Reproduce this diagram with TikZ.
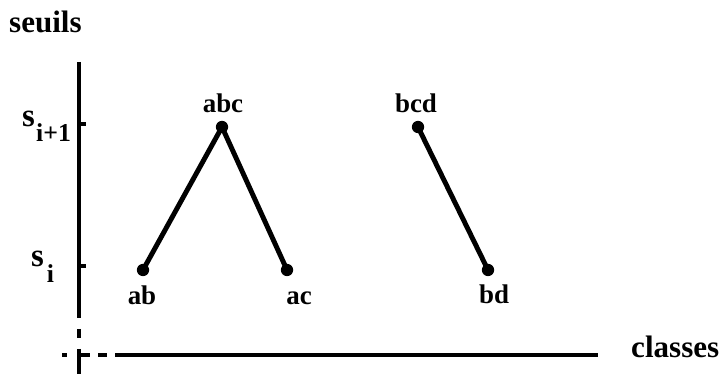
\documentclass[tikz,border=0pt]{standalone}
\usepackage{fontspec}
\setmainfont{Liberation Serif}
\begin{document}
\begin{tikzpicture}[x=0.03cm,y=-0.03cm,
  title/.style={font=\fontsize{26.5}{30}\selectfont\bfseries, inner sep=0pt, anchor=base west},
  lbl/.style={font=\fontsize{23}{26}\selectfont\bfseries, inner sep=0pt, anchor=base},
  slbl/.style={font=\fontsize{22}{25}\selectfont\bfseries, inner sep=0pt, anchor=base west},
  edge/.style={line width=4.2pt, line cap=round},
  axis/.style={line width=2.6pt},
  dotmark/.style={circle, fill=black, minimum size=10.5pt, inner sep=0pt}]
\useasboundingbox (0,0) rectangle (721,374);
% axes
\draw[axis] (79,62) -- (79,318);
\draw[axis] (79,124) -- (86,124);
\draw[axis] (79,266) -- (86,266);
\draw[axis] (79,329) -- (79,338);
\draw[axis] (79,349) -- (79,374);
\draw[axis] (62,355) -- (67,355);
\draw[axis] (79,355) -- (90,355);
\draw[axis] (98,355) -- (107,355);
\draw[axis] (115,355) -- (598,355);
\node[title] (classes) at (631,358) {classes};
\node[title] (seuils) at (9,33) {seuils};
\node[slbl] (sip) at (22,127) {{\fontsize{28}{30}\selectfont s}\kern1pt\raisebox{-12pt}{i+1}};
\node[slbl] (si) at (31,267) {{\fontsize{28}{30}\selectfont s}\kern2.5pt\raisebox{-13.5pt}{i}};
% nodes
\node[dotmark] (abc) at (222,127) {};
\node[dotmark] (ab) at (143,270) {};
\node[dotmark] (ac) at (287,270) {};
\node[dotmark] (bcd) at (418,127) {};
\node[dotmark] (bd) at (488,270) {};
\node[lbl] (labc) at (223,113) {abc};
\node[lbl] (lab) at (142,305) {ab};
\node[lbl] (lac) at (299,305) {ac};
\node[lbl] (lbcd) at (416,113) {bcd};
\node[lbl] (lbd) at (494,304) {bd};
\draw[edge] (ab.center) -- (abc.center) -- (ac.center);
\draw[edge] (bcd.center) -- (bd.center);
\end{tikzpicture}
\end{document}
